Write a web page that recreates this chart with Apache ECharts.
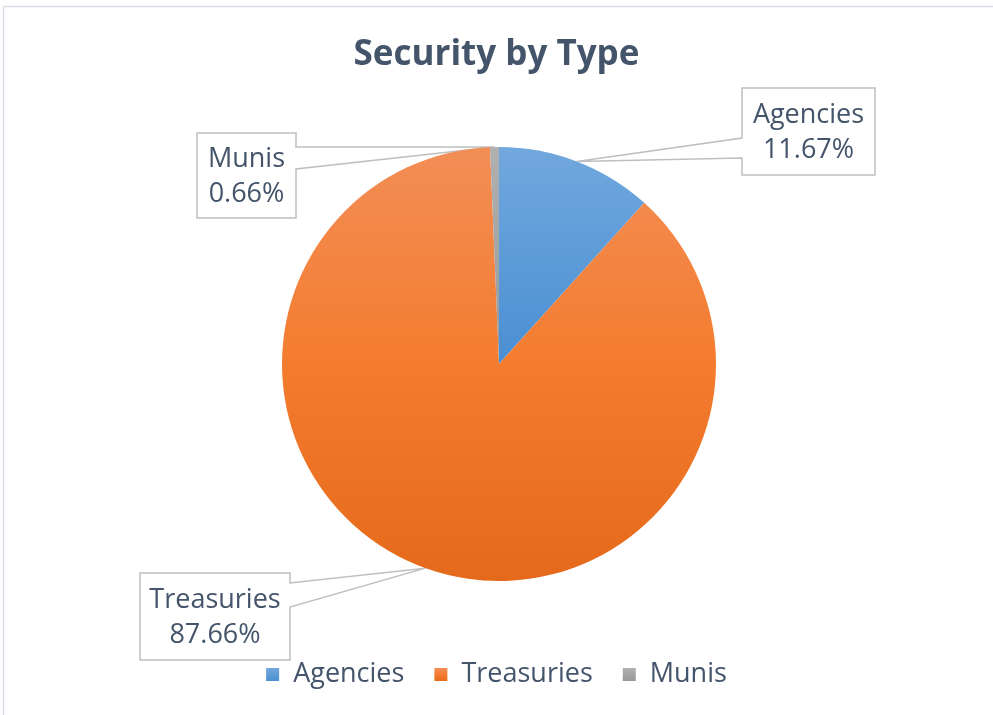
<!DOCTYPE html>
<html>
<head>
<meta charset="utf-8">
<script src="https://cdn.jsdelivr.net/npm/echarts@6/dist/echarts.min.js"></script>
<style>
html,body{margin:0;padding:0;background:#fff;}
#main{width:993px;height:715px;}
</style>
</head>
<body>
<div id="main"></div>
<script>
const titleText = 'Security by Type';
const categories = ['Agencies', 'Treasuries', 'Munis'];
const values = [11.67, 87.66, 0.66];
const percentLabels = ['11.67%', '87.66%', '0.66%'];

const FONT = 'Open Sans';
const TEXT_COLOR = '#44546A';
const gradients = [
  [[0, '#71A8DD'], [1, '#4A8FD3']],
  [[0, '#F28E56'], [0.5, '#F47C2F'], [1, '#E5691B']],
  [[0, '#B0B0B0'], [1, '#999999']]
];
// callout boxes: [left, top, right, bottom, wedge side, wedge y1, wedge y2]
const boxes = [
  {l: 742, t: 88, r: 875, b: 175, side: 'left', y1: 138, y2: 158},
  {l: 140, t: 573, r: 290, b: 660, side: 'right', y1: 583, y2: 607},
  {l: 197, t: 133, r: 296, b: 218, side: 'right', y1: 147, y2: 169}
];

const chart = echarts.init(document.getElementById('main'), null, {renderer: 'canvas'});

const data = categories.map((c, i) => ({
  name: c,
  value: values[i],
  itemStyle: {
    color: new echarts.graphic.LinearGradient(0, 0, 0, 1,
      gradients[i].map(s => ({offset: s[0], color: s[1]})))
  }
}));

chart.setOption({
  animation: false,
  backgroundColor: '#ffffff',
  title: {
    text: titleText,
    left: 'center',
    top: 33,
    textStyle: {fontFamily: FONT, fontSize: 35, fontWeight: 'bold', color: TEXT_COLOR}
  },
  legend: {
    bottom: 22,
    left: 'center',
    icon: 'rect',
    itemWidth: 13,
    itemHeight: 13,
    itemGap: 30,
    data: categories,
    textStyle: {fontFamily: FONT, fontSize: 27, color: TEXT_COLOR, padding: [0, 0, 0, 9]}
  },
  series: [{
    type: 'pie',
    center: [499, 364],
    radius: [0, 217],
    startAngle: 90,
    clockwise: true,
    data: data,
    itemStyle: {borderWidth: 0},
    emphasis: {disabled: true},
    label: {
      show: true,
      formatter: p => p.name + '\n' + percentLabels[p.dataIndex],
      fontFamily: FONT,
      fontSize: 27,
      lineHeight: 35,
      color: TEXT_COLOR,
      align: 'center'
    },
    labelLine: {show: false},
    labelLayout: function (params) {
      const b = boxes[params.dataIndex];
      return {
        x: (b.l + b.r) / 2,
        y: (b.t + b.b) / 2 + 1,
        align: 'center',
        verticalAlign: 'middle'
      };
    }
  }]
});

function tipPoints() {
  let pts = [];
  try {
    const d = chart.getModel().getSeriesByIndex(0).getData();
    for (let i = 0; i < categories.length; i++) {
      const lay = d.getItemLayout(i);
      const mid = (lay.startAngle + lay.endAngle) / 2;
      pts.push([lay.cx + lay.r * Math.cos(mid), lay.cy + lay.r * Math.sin(mid)]);
    }
  } catch (e) {
    pts = [];
  }
  return pts;
}

const tips = tipPoints();
const graphics = [
  {type: 'line', z: 0, shape: {x1: 3.5, y1: 6.5, x2: 993, y2: 6.5}, style: {stroke: '#D9DEE6', lineWidth: 1.5}},
  {type: 'line', z: 0, shape: {x1: 3.5, y1: 6.5, x2: 3.5, y2: 715}, style: {stroke: '#D9DEE6', lineWidth: 1.5}}
];
boxes.forEach((b, i) => {
  const tip = tips[i];
  if (!tip) return;
  let pts;
  if (b.side === 'left') {
    pts = [[b.l, b.t], [b.r, b.t], [b.r, b.b], [b.l, b.b], [b.l, b.y2], tip, [b.l, b.y1]];
  } else {
    pts = [[b.l, b.t], [b.r, b.t], [b.r, b.y1], tip, [b.r, b.y2], [b.r, b.b], [b.l, b.b]];
  }
  graphics.push({
    type: 'polygon',
    z: 0,
    shape: {points: pts},
    style: {fill: '#ffffff', stroke: '#BFBFBF', lineWidth: 1.5}
  });
});
chart.setOption({graphic: graphics});
</script>
</body>
</html>
